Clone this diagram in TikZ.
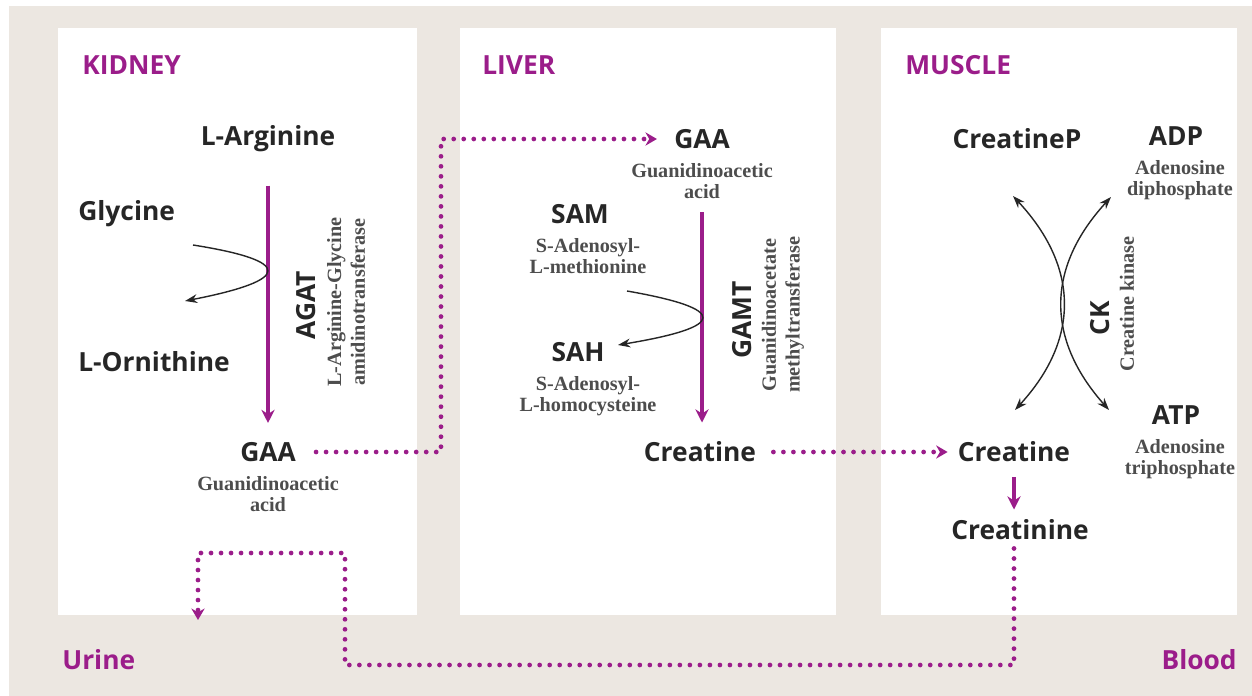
\documentclass[tikz,border=0pt]{standalone}
\usepackage{fontspec}
\setmainfont{Liberation Serif}
\setsansfont{Open Sans}
\usetikzlibrary{arrows.meta,positioning}
\definecolor{organ}{HTML}{9B1D8A}
\definecolor{bgbeige}{HTML}{ECE7E1}
\definecolor{ink}{HTML}{262626}
\definecolor{subink}{HTML}{4D4D4D}

\begin{document}
\begin{tikzpicture}[
    x=0.02cm, y=-0.02cm,
    node distance=0.28cm,
    panel/.style={fill=white, draw=none},
    organlabel/.style={font=\sffamily\bfseries\fontsize{15}{17}\selectfont, text=organ, inner sep=0pt},
    chem/.style={font=\sffamily\bfseries\fontsize{15}{17}\selectfont, text=ink, inner sep=0pt},
    desc/.style={font=\bfseries\fontsize{11.5}{12}\selectfont, text=subink, align=center, inner sep=0pt},
    enzyme/.style={chem, rotate=90},
    enzname/.style={desc, font=\bfseries\fontsize{11.5}{13.5}\selectfont, rotate=90},
    flow/.style={draw=organ, line width=1.8pt, -{Stealth[length=7.5pt, width=7.5pt]}},
    reaction/.style={draw=ink, line width=0.8pt, -{Stealth[length=7pt, width=5pt]}},
    biarrow/.style={draw=ink, line width=0.8pt, {Stealth[length=7pt, width=5pt]}-{Stealth[length=7pt, width=5pt]}},
    transport/.style={draw=organ, line width=2.7pt, line cap=round, dash pattern=on 0pt off 5.7pt, -{Stealth[length=6.5pt, width=7.5pt]}}
]
\useasboundingbox (0,0) rectangle (1252,696);
\fill[bgbeige] (9,6) rectangle (1252,696);

% Panels
\fill[panel] (58,28) rectangle (417,615);
\fill[panel] (460,28) rectangle (836,615);
\fill[panel] (881,28) rectangle (1237,615);

% Labels
\node (kidney) [organlabel, anchor=west] at (82,65) {KIDNEY};
\node (liver) [organlabel, anchor=west] at (482,65) {LIVER};
\node (muscle) [organlabel, anchor=west] at (905,65) {MUSCLE};
\node (urine) [organlabel, anchor=west] at (62,660) {Urine};
\node (blood) [organlabel, anchor=east] at (1237,660) {Blood};

% Kidney
\node (larg) [chem] at (268,139) {L-Arginine};
\node (gly) [chem, anchor=west] at (78,214) {Glycine};
\node (orn) [chem, anchor=west] at (78,362) {L-Ornithine};
\node (gaak) [chem] at (268,452) {GAA};
\node (gaakd) [desc, below=of gaak] {Guanidinoacetic\\acid};
\node (agat) [enzyme] at (306,305) {AGAT};
\node (agatd) [enzname] at (346,302) {L-Arginine-Glycine\\amidinotransferase};
\coordinate (glyin) at (193,245);
\coordinate (ornout) at (185,301);
\coordinate (kbend) at (441,139);

% Liver
\node (gaal) [chem] at (702,139) {GAA};
\node (gaald) [desc, below=of gaal] {Guanidinoacetic\\acid};
\node (sam) [chem] at (580,214) {SAM};
\node (samd) [desc, below=of sam, xshift=0.16cm] {S-Adenosyl-\\L-methionine};
\node (sah) [chem] at (578,352) {SAH};
\node (sahd) [desc, below=of sah, xshift=0.2cm] {S-Adenosyl-\\L-homocysteine};
\node (creatl) [chem] at (700,452) {Creatine};
\node (gamt) [enzyme] at (742,320) {GAMT};
\node (gamtd) [enzname] at (783,315) {Guanidinoacetate\\methyltransferase};
\coordinate (samin) at (627,291);
\coordinate (sahout) at (618,345);

% Muscle
\node (creatp) [chem] at (1017,139) {CreatineP};
\node (adp) [chem] at (1176,136) {ADP};
\node (adpd) [desc, below=of adp, xshift=0.08cm] {Adenosine\\diphosphate};
\node (atp) [chem] at (1176,415) {ATP};
\node (atpd) [desc, below=of atp, xshift=0.08cm] {Adenosine\\triphosphate};
\node (creatm) [chem] at (1014,452) {Creatine};
\node (creatn) [chem] at (1020,530) {Creatinine};
\node (ck) [enzyme] at (1100,318) {CK};
\node (ckd) [enzname] at (1127,304) {Creatine kinase};
\coordinate (cptip) at (1013,196);
\coordinate (cmtip) at (1015,410);
\coordinate (adptip) at (1111,197);
\coordinate (atptip) at (1109,410);
\coordinate (loopcorner) at (345,665);
\coordinate (urineturn) at (345,553);
\coordinate (urinetip) at (198,620);

% Arrows
\draw [flow, shorten <=0.66cm, shorten >=0.38cm] (larg.south) -- (gaak.north);
\draw [reaction] (glyin) .. controls (294,261) and (292,280) .. (ornout);
\draw [flow, shorten <=0.26cm, shorten >=0.38cm] (gaald.south) -- (gaald.south |- creatl.north);
\draw [reaction] (samin) .. controls (730,309) and (727,327) .. (sahout);
\draw [biarrow] (cptip) .. controls (1079,267) and (1080,339) .. (cmtip);
\draw [biarrow] (adptip) .. controls (1046,268) and (1046,339) .. (atptip);
\draw [flow, shorten <=0.3cm, shorten >=0.2cm] (creatm.south) -- (creatm.south |- creatn.north);

\draw [transport, shorten <=0.4cm, shorten >=0.34cm] (gaak.east) -| (kbend) -- (gaal.west);
\draw [transport, shorten <=0.34cm, shorten >=0.2cm] (creatl.east) -- (creatm.west);
\draw [transport, shorten <=0.16cm] (creatm |- creatn.south) |- (loopcorner) -- (urineturn) -| (urinetip);

\end{tikzpicture}
\end{document}
